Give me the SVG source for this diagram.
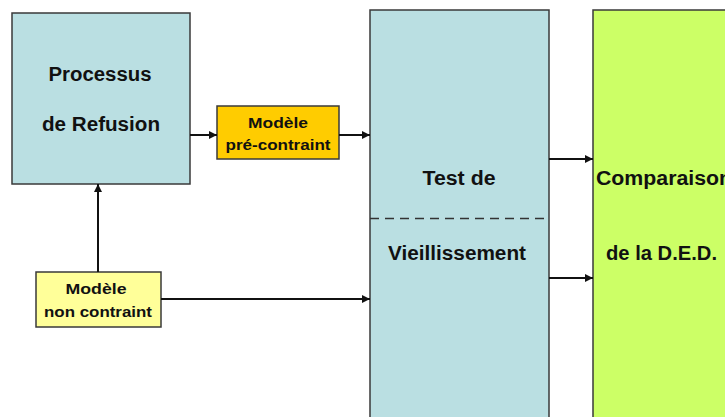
<svg xmlns="http://www.w3.org/2000/svg" width="725" height="417" viewBox="0 0 725 417">
<defs>
<marker id="ah" viewBox="0 0 10 10" refX="10" refY="5" markerWidth="8" markerHeight="8" markerUnits="userSpaceOnUse" orient="auto">
<path d="M0,0 L10,5 L0,10 z" fill="#111"/>
</marker>
</defs>
<style>
.box{stroke:#3a3a3a;stroke-width:1.5}
.t{font-family:"Liberation Sans",Arial,sans-serif;font-weight:bold;fill:#111;text-anchor:middle}
.big{font-size:20px}
.sm{font-size:15.5px}
.c{stroke:#111;stroke-width:2;fill:none;marker-end:url(#ah)}
</style>
<rect width="725" height="417" fill="#fff"/>
<g id="processus">
<rect class="box" x="12" y="13" width="178" height="171" fill="#BADFE2"/>
<text class="t big" x="100" y="81" textLength="103" lengthAdjust="spacingAndGlyphs">Processus</text>
<text class="t big" x="101" y="131" textLength="118" lengthAdjust="spacingAndGlyphs">de Refusion</text>
</g>
<g id="modele-pre">
<rect class="box" x="217" y="106" width="122" height="53" fill="#FFCC00"/>
<text class="t sm" x="278" y="128" textLength="60" lengthAdjust="spacingAndGlyphs">Modèle</text>
<text class="t sm" x="278" y="150" textLength="105" lengthAdjust="spacingAndGlyphs">pré-contraint</text>
</g>
<g id="modele-non">
<rect class="box" x="36" y="272" width="125" height="55" fill="#FFFF99"/>
<text class="t sm" x="96" y="294" textLength="61" lengthAdjust="spacingAndGlyphs">Modèle</text>
<text class="t sm" x="98" y="317" textLength="108" lengthAdjust="spacingAndGlyphs">non contraint</text>
</g>
<g id="test">
<rect class="box" x="370" y="10" width="179" height="420" fill="#BADFE2"/>
<line x1="370" y1="218.5" x2="549" y2="218.5" stroke="#333" stroke-width="1.5" stroke-dasharray="9,6"/>
<text class="t big" x="459" y="185" textLength="73" lengthAdjust="spacingAndGlyphs">Test de</text>
<text class="t big" x="457" y="260" textLength="138" lengthAdjust="spacingAndGlyphs">Vieillissement</text>
</g>
<g id="comparaison">
<rect class="box" x="593" y="10" width="160" height="420" fill="#CCFF66"/>
<text class="t big" x="596" y="185" style="text-anchor:start" textLength="136" lengthAdjust="spacingAndGlyphs">Comparaison</text>
<text class="t big" x="661.5" y="260" textLength="111" lengthAdjust="spacingAndGlyphs">de la D.E.D.</text>
</g>
<g id="connectors">
<line class="c" x1="190" y1="135" x2="217" y2="135"/>
<line class="c" x1="339" y1="135" x2="370" y2="135"/>
<line class="c" x1="98" y1="272" x2="98" y2="184"/>
<line class="c" x1="161" y1="299" x2="370" y2="299"/>
<line class="c" x1="549" y1="159" x2="593" y2="159"/>
<line class="c" x1="549" y1="278" x2="593" y2="278"/>
</g>
</svg>
